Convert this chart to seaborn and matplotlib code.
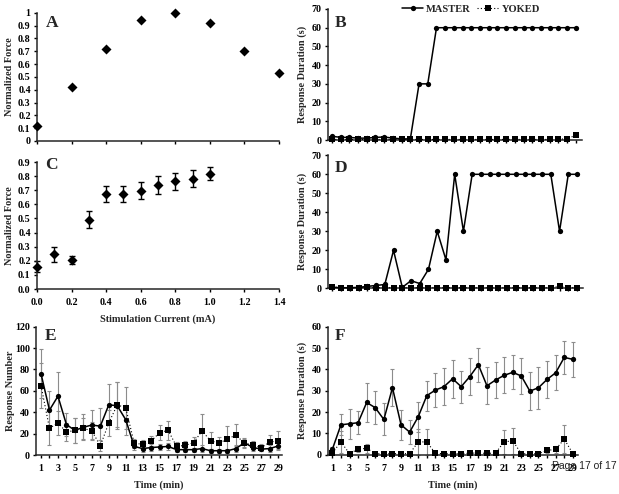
import numpy as np
import matplotlib
matplotlib.use('Agg')
import matplotlib.pyplot as plt
from matplotlib.lines import Line2D
import seaborn as sns

# Data
# Panel A: normalized force vs stimulation current
a_current = [0.0, 0.2, 0.4, 0.6, 0.8, 1.0, 1.2, 1.4]
a_force = [0.12, 0.42, 0.72, 0.94, 1.0, 0.92, 0.70, 0.53]

# Panel C: mean normalized force with error
c_current = [0.0, 0.1, 0.2, 0.3, 0.4, 0.5, 0.6, 0.7, 0.8, 0.9, 1.0]
c_force = [0.157, 0.245, 0.205, 0.492, 0.675, 0.672, 0.698, 0.736, 0.764, 0.783, 0.818]
c_err = [0.038, 0.052, 0.028, 0.06, 0.056, 0.056, 0.058, 0.063, 0.06, 0.058, 0.046]

minutes = list(range(1, 30))

# Panel B: single pair, response duration (s)
b_master = [2, 1.4, 1.4, 1, 1, 1.4, 1.6, 1, 0.6, 0.6, 30, 30,
            60, 60, 60, 60, 60, 60, 60, 60, 60, 60, 60, 60, 60, 60, 60, 60, 60]
b_yoked = [0.3, 0.3, 0.3, 0.3, 0.3, 0.3, 0.3, 0.3, 0.3, 0.3, 0.3, 0.3,
           0.3, 0.3, 0.3, 0.3, 0.3, 0.3, 0.3, 0.3, 0.3, 0.3, 0.3, 0.3, 0.3, 0.3, 0.3, 0.8, 2.5]

# Panel D: another pair
d_master = [0.5, 0.3, 0.3, 0.5, 1, 1.5, 2, 20, 0.5, 4, 2.5, 10, 30, 15, 60, 30,
            60, 60, 60, 60, 60, 60, 60, 60, 60, 60, 30, 60, 60]
d_yoked = [0.8, 0.3, 0.3, 0.3, 0.5, 0.3, 0.3, 0.3, 0.3, 0.3, 0.3, 0.3, 0.3, 0.3, 0.3,
           0.3, 0.3, 0.3, 0.3, 0.3, 0.3, 0.3, 0.3, 0.3, 0.3, 0.3, 1.0, 0.3, 0.3]

# Panel E: response number (mean, error)
e_master = [76, 42, 55, 28.5, 23, 26, 28, 27, 47, 46, 33, 8, 6, 7, 7.5, 8, 5, 5, 5,
            6, 4, 4, 4, 6, 11.5, 7, 5.5, 6, 8.5]
e_master_err = [23, 18, 23, 11, 12, 12, 14, 17, 19, 22, 14, 3, 3, 3, 3, 3, 2, 2, 2,
                3, 2, 2, 2, 3, 4, 3, 2, 3, 3]
e_yoked = [65, 25, 30, 21.5, 23, 25, 22.5, 8.7, 30, 47, 44, 11, 10, 13, 21, 23, 8, 9,
           11.5, 22.5, 13.4, 11, 15, 18.7, 11, 9.3, 7, 12, 13.4]
e_yoked_err = [21, 16, 11, 8, 12, 10, 8, 5, 12, 21, 20, 4, 4, 5, 7, 9, 4, 4, 5, 16,
               8, 6, 12, 10, 4, 4, 3, 7, 9]

# Panel F: response duration (mean, error)
f_master = [2.5, 14, 14.5, 15, 24.5, 22, 16.5, 31.4, 14, 10.6, 17.8, 27.7, 30.3, 31.9,
            35.6, 31.9, 36.6, 42.2, 32.3, 35, 37.2, 38.6, 36.9, 29.8, 31.4, 35.3, 38.4,
            45.6, 44.7]
f_master_err = [1, 5, 7, 5.5, 9, 7.7, 7.5, 8.6, 7, 5.6, 7, 7, 8, 8.6, 8.8, 7.5, 8.6, 8,
                8.6, 8.3, 8.4, 8, 8.3, 9, 9.8, 8.8, 8.3, 7.8, 8.3]
f_yoked = [0.8, 6, 0.5, 2.6, 3, 0.5, 0.5, 0.5, 0.5, 0.5, 6, 6, 0.6, 0.5, 0.5, 0.5, 0.7,
           0.8, 0.6, 0.8, 6, 6.5, 0.5, 0.4, 0.5, 2, 2.5, 7.3, 0.5]
f_yoked_err = [0.5, 5, 0.5, 1.5, 2, 0.3, 0.3, 0.3, 0.3, 0.3, 6, 6, 0.3, 0.3, 0.3, 0.3,
               0.3, 0.3, 0.3, 0.3, 5.5, 6, 0.3, 0.3, 0.3, 1, 1.5, 6.5, 0.3]

# Style
sns.set_style('ticks')
plt.rcParams['font.family'] = ['Liberation Serif', 'DejaVu Serif']
plt.rcParams['font.weight'] = 'bold'
plt.rcParams['axes.labelweight'] = 'bold'
plt.rcParams['axes.linewidth'] = 1.1
plt.rcParams['xtick.major.width'] = 1.0
plt.rcParams['ytick.major.width'] = 1.0
plt.rcParams['xtick.major.size'] = 2.5
plt.rcParams['ytick.major.size'] = 2.5
plt.rcParams['xtick.major.pad'] = 4
plt.rcParams['ytick.major.pad'] = 2
plt.rcParams['xtick.labelsize'] = 7.2
plt.rcParams['ytick.labelsize'] = 7.2

W, H = 619, 494
fig = plt.figure(figsize=(W / 100, H / 100), dpi=100)


def make_ax(left, top, right, bottom):
    ax = fig.add_axes([left / W, 1 - bottom / H, (right - left) / W, (bottom - top) / H])
    ax.patch.set_alpha(0)
    return ax


axA = make_ax(37, 12.7, 279, 141)
axB = make_ax(328, 9, 582, 140)
axC = make_ax(37, 162, 279, 289)
axD = make_ax(328, 155.3, 582.7, 288.3)
axE = make_ax(36, 326.7, 281.7, 455)
axF = make_ax(327.7, 326.7, 578, 454.7)

lab_fs = 7.4
letter_fs = 12.5

# A
sns.scatterplot(x=a_current, y=a_force, marker='D', s=26, color='black',
                linewidth=0, ax=axA, clip_on=False, zorder=5)
axA.set_xlim(0, 1.4)
axA.set_ylim(0, 1)
axA.set_xticks(a_current)
axA.set_xticklabels([])
axA.set_yticks(np.arange(0, 1.01, 0.1))
axA.set_yticklabels(['0', '0.1', '0.2', '0.3', '0.4', '0.5', '0.6', '0.7', '0.8', '0.9', '1'])
axA.set_ylabel('Normalized Force', fontsize=lab_fs)
axA.yaxis.set_label_coords(-0.093, 0.5)

# C
axC.errorbar(c_current, c_force, yerr=c_err, fmt='none', ecolor='black',
             elinewidth=1.0, capsize=2, capthick=1.0, clip_on=False)
sns.scatterplot(x=c_current, y=c_force, marker='D', s=26, color='black',
                linewidth=0, ax=axC, clip_on=False, zorder=5)
axC.set_xlim(0, 1.4)
axC.set_ylim(0, 0.9)
axC.set_xticks(np.arange(0, 1.41, 0.2))
axC.set_xticklabels(['0.0', '0.2', '0.4', '0.6', '0.8', '1.0', '1.2', '1.4'])
axC.set_yticks(np.arange(0, 0.91, 0.1))
axC.set_yticklabels(['0.0', '0.1', '0.2', '0.3', '0.4', '0.5', '0.6', '0.7', '0.8', '0.9'])
axC.set_ylabel('Normalized Force', fontsize=lab_fs)
axC.yaxis.set_label_coords(-0.093, 0.5)
axC.set_xlabel('Stimulation Current (mA)', fontsize=lab_fs)
axC.xaxis.set_label_coords(0.5, -0.2)


def pair_panel(ax, master, yoked, master_err=None, yoked_err=None):
    if yoked_err is not None:
        ax.errorbar(minutes, yoked, yerr=yoked_err, fmt='none', ecolor='#8c8c8c',
                    elinewidth=0.8, capsize=1.5, capthick=0.8, clip_on=False)
    if master_err is not None:
        ax.errorbar(minutes, master, yerr=master_err, fmt='none', ecolor='#8c8c8c',
                    elinewidth=0.8, capsize=1.5, capthick=0.8, clip_on=False)
    sns.lineplot(x=minutes, y=yoked, ax=ax, color='black', linestyle=(0, (1, 2)),
                 linewidth=0.8, marker='s', markersize=3.8, markeredgewidth=0,
                 clip_on=False, zorder=4)
    sns.lineplot(x=minutes, y=master, ax=ax, color='black', linestyle='-',
                 linewidth=1.1, marker='o', markersize=3.8, markeredgewidth=0,
                 clip_on=False, zorder=5)
    ax.set_xticks(minutes)


# B
pair_panel(axB, b_master, b_yoked)
axB.set_xlim(0.55, 29.7)
axB.set_ylim(0, 70)
axB.set_yticks(range(0, 71, 10))
axB.set_xticklabels([])
axB.set_ylabel('Response Duration (s)', fontsize=lab_fs)
axB.yaxis.set_label_coords(-0.081, 0.5)

# D
pair_panel(axD, d_master, d_yoked)
axD.set_xlim(0.5, 29.65)
axD.set_ylim(0, 70)
axD.set_yticks(range(0, 71, 10))
axD.set_xticklabels([])
axD.set_ylabel('Response Duration (s)', fontsize=lab_fs)
axD.yaxis.set_label_coords(-0.081, 0.5)

# E
pair_panel(axE, e_master, e_yoked, e_master_err, e_yoked_err)
axE.set_xlim(0.41, 29.4)
axE.set_ylim(0, 120)
axE.set_yticks(range(0, 121, 20))
axE.set_xticklabels([str(m) if m % 2 == 1 else '' for m in minutes])
axE.set_ylabel('Response Number', fontsize=lab_fs)
axE.yaxis.set_label_coords(-0.0875, 0.5)
axE.set_xlabel('Time (min)', fontsize=lab_fs)
axE.xaxis.set_label_coords(0.5, -0.2)

# F
pair_panel(axF, f_master, f_yoked, f_master_err, f_yoked_err)
axF.set_xlim(0.46, 29.6)
axF.set_ylim(0, 60)
axF.set_yticks(range(0, 61, 10))
axF.set_xticklabels([str(m) if m % 2 == 1 else '' for m in minutes])
axF.set_ylabel('Response Duration (s)', fontsize=lab_fs)
axF.yaxis.set_label_coords(-0.081, 0.5)
axF.set_xlabel('Time (min)', fontsize=lab_fs)
axF.xaxis.set_label_coords(0.5, -0.2)

for ax, letter, (lx, ly) in [(axA, 'A', (0.062, 0.92)), (axB, 'B', (0.051, 0.893)),
                             (axC, 'C', (0.058, 0.976)), (axD, 'D', (0.051, 0.904)),
                             (axE, 'E', (0.061, 0.927)), (axF, 'F', (0.049, 0.927))]:
    sns.despine(ax=ax)
    ax.tick_params(direction='out', colors='black')
    ax.text(lx, ly, letter, transform=ax.transAxes, fontsize=letter_fs,
            fontweight='bold', ha='center', va='center')

# Legend above panel B
handles = [Line2D([], [], color='black', linestyle='-', linewidth=1.1, marker='o',
                  markersize=3.8, markeredgewidth=0),
           Line2D([], [], color='black', linestyle=(0, (1, 2)), linewidth=0.8, marker='s',
                  markersize=3.8, markeredgewidth=0)]
fig.legend(handles, ['MASTER', 'YOKED'], loc='center', bbox_to_anchor=(471 / W, 1 - 9.5 / H),
           ncol=2, frameon=False, fontsize=7.6, handlelength=2.0, handletextpad=0.3,
           columnspacing=0.6, borderpad=0)

# page footer that sits in the scanned figure
fig.text(552 / W, 1 - 466 / H, 'Page 17 of 17', family='Liberation Sans',
         fontweight='normal', fontsize=7.5, ha='left', va='center', color='#222222')

fig.savefig('out.png', dpi=100)
